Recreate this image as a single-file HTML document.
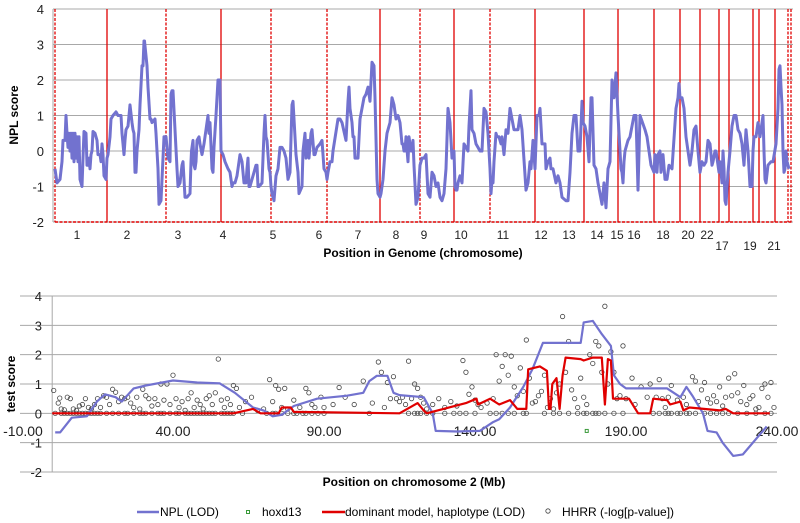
<!DOCTYPE html>
<html><head><meta charset="utf-8"><style>
html,body{margin:0;padding:0;background:#fff;}
svg{display:block;font-family:"Liberation Sans",sans-serif;}
</style></head><body>
<svg id="c" width="800" height="523" viewBox="0 0 800 523">
<g id="topchart"></g>
<g id="botchart"></g>
<text x="18" y="115" transform="rotate(-90 18 115)" text-anchor="middle" font-size="12" font-weight="bold">NPL score</text>
<text x="423" y="257" text-anchor="middle" font-size="12" font-weight="bold">Position in Genome (chromosome)</text>
<text x="15" y="384" transform="rotate(-90 15 384)" text-anchor="middle" font-size="12" font-weight="bold">test score</text>
<text x="414" y="486" text-anchor="middle" font-size="12" font-weight="bold">Position on chromosome 2 (Mb)</text>
<g font-size="12">
<g><line x1="137" y1="512" x2="159" y2="512" stroke="#7272cf" stroke-width="2.5"/><text x="160" y="516">NPL (LOD)</text></g>
<g><rect x="246.5" y="510.5" width="3" height="3" fill="none" stroke="#3a9a3a" stroke-width="1"/><text x="262" y="516">hoxd13</text></g>
<g><line x1="322" y1="512" x2="345" y2="512" stroke="#e00000" stroke-width="2.5"/><text x="345" y="516">dominant model, haplotype (LOD)</text></g>
<g><circle cx="548" cy="511" r="2.2" fill="none" stroke="#444" stroke-width="0.8"/><text x="562" y="516">HHRR (-log[p-value])</text></g>
</g>
</svg>
<script>
// ---------- TOP CHART DATA ----------
const topYTicks = [4,3,2,1,0,-1,-2];
const chromLabels = ["1","2","3","4","5","6","7","8","9","10","11","12","13","14","15","16","18","20","22","17","19","21"];
const chromLabelPos = [24,74,125,170,220,266,305,343,371,408,450,488,516,544,564,581,610,635,654,669,697,721];
const chromLabelRow = [0,0,0,0,0,0,0,0,0,0,0,0,0,0,0,0,0,0,0,1,1,1];
const boundaryPos = [2,54,113,168,218,274,327,367,401,437,482,531,565,601,627,647,666,676,700,706,722,735,738];
const boundaryDashed = [1,0,1,0,1,1,0,1,0,1,0,0,0,0,0,0,0,0,0,0,0,1,1];
const genomePos = [2,4,7,9,10,12,13,14,15,16,17,18,19,20,21,22,23,24,25,26,27,29,30,31,33,34,35,36,37,38,39,40,42,44,45,47,48,49,50,51,53,54,
55,57,58,60,63,65,68,69,70,71,72,73,75,77,79,80,81,82,83,84,86,87,89,90,91,91.5,94,95,97,98,99,102,103,105,106,108,110,111,
113,115,117,118,119,120,122,124,125,127,129,130,132,134,137,138,138.5,140,141,142,143,144,146,147,149,151,153,155,156,157,159,160,161,163,165,167,168,
170,172,175,177,179,180,182,184,186,187,189,191,193,194,195,196,197,199,203,204,205,206,209,211,212,213,214,216,217,218,
219,221,223,225,227,229,231,233,235,237,239,240,241,243,245,246,249,250,252,253,255,256,258,259,261,262,264,267,269,271,273,274,
275,277,279,280,285,287,289,293,295,296,297,299,300,301,302,305,307,311,313,315,317,319,321,322,324,325,327,
328,330,332,334,336,337,339,341,343,345,346,347,349,350,351,352,353,355,356,358,359,360,361,363,365,367,
368,369,371,373,375,377,379,381,383,385,387,389,391,393,395,397,399,401,
402,403,404,405,407,409,411,413,415,416,418,419,421,423,425,427,429,431,433,435,437,
438,439,440,441,443,444,446,448,449,451,453,455,457,459,461,463,465,467,469,473,475,477,478,480,482,
484,486,487,489,492,493,495,497,498,500,503,505,507,509,513,515,517,519,521,523,525,527,529,530,
532,534,536,538,539,541,543,545,547,549,551,553,555,557,559,561,563,565,
566,568,569,570,571,572,574,575,577,579,581,583,585,587,592,594,596,598,601,
602,604,605,607,608,610,612,614,616,619,623,625,626,627,629,631,633,637,639,641,643,645,647,649,651,653,655,657,659,660,662,663,665,666,667,669,670,671,672,673,675,677,679,681,683,685,687,689,691,693,695,697,699,700,701,703,705,707,710,711,712,713,715,718,720,723,725,726,727,728,729,730,731,732,733,734,736,738,739];
const npl = [-0.5,-0.9,-0.8,-0.3,0.3,0.3,1.0,0.5,0.1,0.5,0.0,0.5,-0.2,0.5,-0.3,0.5,-0.2,0.4,-0.3,0.4,-0.8,-1.0,-0.2,0.55,0.5,-0.4,-0.4,-0.2,-0.5,-0.1,0.0,0.55,0.5,0.3,-0.1,-0.1,-0.3,0.2,-0.1,-0.7,-0.8,-0.2,
-0.1,0.4,0.9,1.0,1.1,1.0,1.0,0.5,0.2,-0.1,0.3,0.6,0.7,1.3,0.8,0.6,0.5,-0.6,-0.6,0.0,0.6,1.3,2.4,2.4,3.1,3.1,2.4,1.8,0.9,0.9,0.8,0.9,0.5,-0.5,-1.5,-1.4,-0.2,0.4,
0.4,-0.2,-0.3,1.6,1.7,1.7,0.6,-0.5,-1.0,-0.9,-0.4,-0.3,-1.3,-1.3,-1.2,-0.3,0.0,0.3,-0.4,-0.5,-0.3,0.3,0.4,0.2,-0.1,0.2,0.6,1.0,0.5,0.8,-0.5,-0.6,0.1,1.0,2.0,2.0,
0.0,-0.1,-0.3,-0.5,-0.6,-1.0,-0.9,-0.9,-0.7,-0.3,-0.1,-0.3,-0.9,-0.9,-0.5,-0.2,-1.0,-1.0,-0.8,-0.4,-0.4,-1.0,-1.0,-0.9,0.5,1.0,0.4,0.3,-0.5,-0.6,
-1.0,-1.2,-1.4,-0.7,-0.5,0.1,0.1,0.0,-0.2,-0.8,-0.6,1.3,1.4,0.9,-0.1,-0.6,-1.2,-1.0,0.0,0.5,-0.2,0.3,-0.2,0.5,0.6,-0.1,-0.1,0.1,0.2,0.3,-0.5,-0.6,
-0.8,-0.6,-0.3,-0.3,0.0,0.9,0.9,0.8,0.3,1.4,1.8,1.2,0.8,0.4,0.4,-0.2,-0.2,0.9,1.5,1.6,1.8,1.4,2.5,2.4,1.5,-0.8,
-1.2,-1.3,-1.2,-0.8,0.0,0.5,0.7,0.8,1.5,1.3,0.9,1.0,0.9,0.8,0.2,0.2,0.0,0.0,0.4,-0.3,0.4,0.0,0.0,0.3,-0.4,-1.5,
-1.3,-0.4,-0.3,-0.2,-0.2,-0.1,-1.2,-1.3,-0.6,-0.7,-1.0,-0.9,-1.3,-1.4,-1.2,-0.5,1.2,0.8,-0.2,0.0,-1.0,
-1.1,-1.1,-0.9,-0.7,-0.9,0.2,0.1,0.0,0.7,1.7,0.6,0.5,0.2,0.1,0.0,0.0,1.2,1.1,0.5,-0.5,-1.2,-0.8,-0.9,-0.3,0.5,
0.4,0.4,0.2,0.4,-0.1,0.6,0.5,1.2,0.9,0.6,0.6,0.6,1.0,0.6,-1.1,-0.9,-0.3,-0.5,0.3,-0.5,1.0,1.0,1.2,0.2,
0.2,-0.5,-0.3,-0.2,-0.5,-0.5,-0.9,-0.7,-0.9,-1.3,-1.4,-1.4,-0.6,0.5,1.0,1.0,0.0,0.0,
1.4,0.8,0.7,0.4,-0.3,1.5,1.5,-0.4,-0.5,-0.9,-1.2,-1.5,-0.9,-1.6,-0.5,-0.3,2.0,1.5,2.2,
1.0,0.5,-0.5,-0.6,-0.9,-0.3,0.0,0.2,0.3,0.4,0.7,1.0,1.0,-1.1,1.0,0.6,0.4,0.0,-0.4,-0.6,-0.1,-0.6,-0.1,0.0,-0.6,-0.1,-0.8,-0.8,-0.4,-0.5,1.2,1.5,1.9,1.5,1.5,1.2,0.4,-0.4,0.0,0.6,0.7,0.0,-0.6,-0.3,-0.4,-0.3,0.3,0.2,-0.4,-0.3,0.0,0.0,-0.4,-0.6,-0.3,-0.9,0.0,-0.5,-1.4,-1.5,-0.6,0.0,0.7,1.0,1.0,0.6,0.5,0.2,-0.4,0.6,0.0,-1.0,-1.0,0.0,0.4,0.4,0.8,0.4,1.0,0.0,-0.8,-0.9,-0.4,-0.3,-0.3,0.2,1.2,2.3,2.4,1.8,1.3,0.0,-0.6,-0.5,0.0,-0.3,-0.5];

// ---------- BOTTOM CHART DATA ----------
const botYTicks = [4,3,2,1,0,-1,-2];
const botXTicks = [-10,40,90,140,190,240];
const nplMb = [1,2.6,6.5,11.5,14.8,17.5,21,23,27,31,40,48,55.5,60.5,66.5,70,73,76,80,87.7,97.6,103,105,107.5,111,113,115,123,126,127,134,141.6,146,148,151.6,156,159,162.5,175,176,179,182,185,186,188,190,203.6,208,210,212,215.5,217,220,222,225.5,228.7,236.6];
const nplLod = [-0.65,-0.65,-0.15,-0.1,0.4,0.65,0.55,0.4,0.85,0.95,1.12,1.05,1.02,0.7,0.2,0.1,-0.1,-0.05,0.25,0.5,0.6,0.7,1.1,1.28,1.28,0.7,0.62,0.55,0.0,-0.6,-0.62,-0.6,-0.3,-0.2,0.2,0.9,1.5,2.4,2.4,3.1,3.15,2.7,2.3,1.3,1.0,0.85,0.85,0.55,0.9,0.6,0.0,-0.6,-0.65,-1.0,-1.45,-1.4,-0.45];
const domMb = [0,60,66.5,69,75,76,79,80,115,121,123,124,137,140.5,141,145,148,151.6,154,157,157.6,161.5,163.8,164.5,165,165.6,167,168,169,170,175,176,179,182,183,184,185,185.7,191,194,198,199,203.6,204.6,208,209,211,221,223,225.5,237.6];
const domLod = [0,0,0.15,0,0,0.2,0.2,0.05,0,0.35,0.1,0,0.35,0.5,0.3,0.5,0.3,0.45,0.15,0.15,1.5,1.6,1.45,0.15,0.15,1.0,1.2,0.15,1.3,1.9,1.85,1.8,1.9,1.9,0.3,1.85,1.8,0.5,0.5,0,0,0.5,0.45,0.3,0.4,0.1,0.2,0.1,0.15,0,0];
const hoxMb = [177];
const hoxVal = [-0.6];
const hhrrZeroMb = [1,3,4,5,6,7,8,9,10,11,12,13,14,15,16,18,20,22,24,25,27,29,30,31,33,35,36,37,39,41,42,44,45,46,47,48,49,50,51,52,53,54,56,57,58,59,60,63,71,73,74,76,78,80,81,83,84,86,88,90,105,118,120,121,122,124,126,130,133,135,137,140,145,147,149,151,153,156,157,163,166,168,171,174,176,177,179,180,181,183,186,189,199,201,203,204,205,207,208,210,211,213,216,218,220,222,224,227,230,233,236,238];
const hhrrMb = [0.5,2,2.5,3,4,5,6,7,8,9,10,11,12,13,14,15,16,17,18,19,20,21,22,23,24,25,26,27,28,29,30,31,32,33,34,35,36,37,38,39,40,41,42,43,44,45,46,47,48,49,50,51,52,53,54,55,56,57,58,59,60,61,62,64,66,68,70,72,73,74,75,76,77,78,80,82,84,85,86,87,89,90,93,95,97,100,103,106,108,109,110,111,112,113,114,115,116,117,118,119,120,121,122,123,124,126,128,130,132,134,136,137,138,139,140,141,142,144,146,147,148,149,150,151,152,153,154,155,156,157,158,159,160,161,162,163,164,165,166,167,168,169,170,171,172,173,174,175,176,177,178,179,180,181,182,183,184,185,186,187,188,189,190,192,193,195,197,198,200,201,202,203,204,205,207,209,210,212,213,214,215,216,217,218,219,220,221,222,223,224,225,226,227,228,229,230,231,232,233,234,235,236,237,238,239];
const hhrrVal = [0.78,0.35,0.52,0.15,0.12,0.55,0.5,0.15,0.1,0.25,0.3,0.5,0.2,0.15,0.3,0.5,0.2,0.6,0.55,0.3,0.82,0.72,0.4,0.55,0.5,0.55,0.35,0.2,0.55,0.15,0.82,0.6,0.5,0.25,0.5,0.3,1.0,0.45,1.0,0.3,1.3,0.5,0.2,0.4,0.1,0.5,0.7,0.2,0.45,0.3,0.15,0.5,0.6,0.3,0.7,1.85,0.45,0.2,0.5,0.3,0.95,0.85,0.2,0.4,0.55,0.1,0.15,1.15,0.4,0.95,0.82,0.2,0.85,0.15,0.45,0.2,0.85,0.7,0.3,0.2,0.55,0.2,0.3,0.88,0.55,0.3,1.1,0.35,1.75,1.4,0.2,1.05,0.5,1.25,0.5,0.4,0.55,0.3,1.78,0.5,1.0,0.85,0.55,0.35,0.15,0.3,0.5,0.2,0.4,0.25,1.8,1.4,0.65,0.9,0.45,0.3,0.2,0.35,0.5,2.0,1.1,1.6,2.0,1.3,1.95,0.9,0.6,1.55,0.75,2.5,1.2,0.35,0.4,0.6,0.75,1.3,0.2,0.5,0.15,0.7,1.0,3.3,1.4,2.45,0.8,0.5,0.2,1.2,0.55,0.3,2.0,1.7,2.45,2.3,1.4,3.65,1.0,2.1,1.4,0.5,0.6,2.3,0.5,1.2,0.3,0.9,0.55,1.0,0.55,1.15,0.5,0.2,0.55,0.95,0.45,0.55,0.3,1.25,1.1,0.4,0.8,1.05,0.5,0.35,0.6,0.4,0.9,0.25,0.55,1.2,0.6,1.35,0.7,0.4,0.95,0.3,0.5,0.6,0.15,0.2,0.85,1.0,0.55,1.05,0.2];

const NS = "http://www.w3.org/2000/svg";
function mk(parent, tag, attrs, text){
  const e = document.createElementNS(NS, tag);
  for (const k in attrs) e.setAttribute(k, attrs[k]);
  if (text !== undefined) e.textContent = text;
  parent.appendChild(e);
  return e;
}
// ---- top axes ----
const T = {x0:53, x1:793, y0:9, y1:222, gmin:0, gmax:740, vmin:-2, vmax:4};
const tx = g => T.x0 + (g - T.gmin) / (T.gmax - T.gmin) * (T.x1 - T.x0);
const ty = v => T.y1 - (v - T.vmin) / (T.vmax - T.vmin) * (T.y1 - T.y0);
const topG = document.getElementById('topchart');
topYTicks.forEach(v => {
  const gl = mk(topG, 'line', {x1:T.x0, x2:T.x1, y1:ty(v), y2:ty(v), stroke:'#a8a8a8', 'stroke-width':1});
  
  
  const t = mk(topG, 'text', {x:44, y:ty(v)+5, 'text-anchor':'end', 'font-size':13, fill:'#222'}, String(v));
  
  
});
const ax = mk(topG, 'line', {x1:T.x0, x2:T.x0, y1:T.y0, y2:T.y1, stroke:'#a8a8a8', 'stroke-width':1});


const bl = mk(topG, 'line', {x1:tx(boundaryPos[0]), x2:T.x1, y1:T.y1, y2:T.y1, stroke:'#e00000', 'stroke-width':1.5, 'stroke-dasharray':'3,1.5'});


boundaryPos.forEach((g, i) => {
  const a = {x1:tx(g), x2:tx(g), y1:T.y0, y2:T.y1, stroke:'#e00000', 'stroke-width':1.3};
  if (boundaryDashed[i]) a['stroke-dasharray'] = '3,1.5';
  const l = mk(topG, 'line', a);
  
  
});
let d = '';
genomePos.forEach((g, i) => { if (npl[i] === undefined) return; d += (d ? 'L' : 'M') + tx(g).toFixed(1) + ',' + ty(npl[i]).toFixed(1); });
const pl = mk(topG, 'path', {d:d, fill:'none', stroke:'#7272cf', 'stroke-width':3, 'stroke-linejoin':'round'});


chromLabels.forEach((s, i) => {
  const t = mk(topG, 'text', {x:tx(chromLabelPos[i]), y:chromLabelRow[i] ? 250 : 239, 'text-anchor':'middle', 'font-size':12, fill:'#222'}, s);
  
  
});

// ---- bottom axes ----
const B = {x0:22, x1:777, y0:296, y1:472, mmin:-10, mmax:240, vmin:-2, vmax:4};
const bx = m => B.x0 + (m - B.mmin) / (B.mmax - B.mmin) * (B.x1 - B.x0);
const by = v => B.y1 - (v - B.vmin) / (B.vmax - B.vmin) * (B.y1 - B.y0);
const botG = document.getElementById('botchart');
botYTicks.forEach(v => {
  const gl = mk(botG, 'line', {x1:20, x2:B.x1, y1:by(v), y2:by(v), stroke:'#a8a8a8', 'stroke-width':1});
  
  
  const t = mk(botG, 'text', {x:42, y:by(v)+5, 'text-anchor':'end', 'font-size':13, fill:'#222'}, String(v));
  
  
});
const bax = mk(botG, 'line', {x1:bx(0), x2:bx(0), y1:B.y0, y2:B.y1, stroke:'#a8a8a8', 'stroke-width':1});


botXTicks.forEach(m => {
  const t = mk(botG, 'text', {x:m === -10 ? 23 : bx(m), y:436, 'text-anchor':'middle', 'font-size':14, fill:'#222'}, m.toFixed(2));
  
  
});
hhrrZeroMb.forEach(m => {
  const c = mk(botG, 'circle', {cx:bx(m), cy:by(0), r:2.2, fill:'none', stroke:'#444', 'stroke-width':0.8});
  
  
});
hhrrMb.forEach((m, i) => {
  if (hhrrVal[i] === undefined) return;
  const c = mk(botG, 'circle', {cx:bx(m), cy:by(hhrrVal[i]), r:2.2, fill:'none', stroke:'#444', 'stroke-width':0.8});
  
  
});
let d2 = '';
nplMb.forEach((m, i) => { d2 += (i ? 'L' : 'M') + bx(m).toFixed(1) + ',' + by(nplLod[i]).toFixed(1); });
const p2 = mk(botG, 'path', {d:d2, fill:'none', stroke:'#7272cf', 'stroke-width':2.2, 'stroke-linejoin':'round'});


let d3 = '';
domMb.forEach((m, i) => { d3 += (i ? 'L' : 'M') + bx(m).toFixed(1) + ',' + by(domLod[i]).toFixed(1); });
const p3 = mk(botG, 'path', {d:d3, fill:'none', stroke:'#e00000', 'stroke-width':2.2, 'stroke-linejoin':'round'});


hoxMb.forEach((m, i) => {
  const r = mk(botG, 'rect', {x:bx(m)-1.5, y:by(hoxVal[i])-1.5, width:3, height:3, fill:'none', stroke:'#3a9a3a', 'stroke-width':1});
  
  
});
</script>
</body></html>
